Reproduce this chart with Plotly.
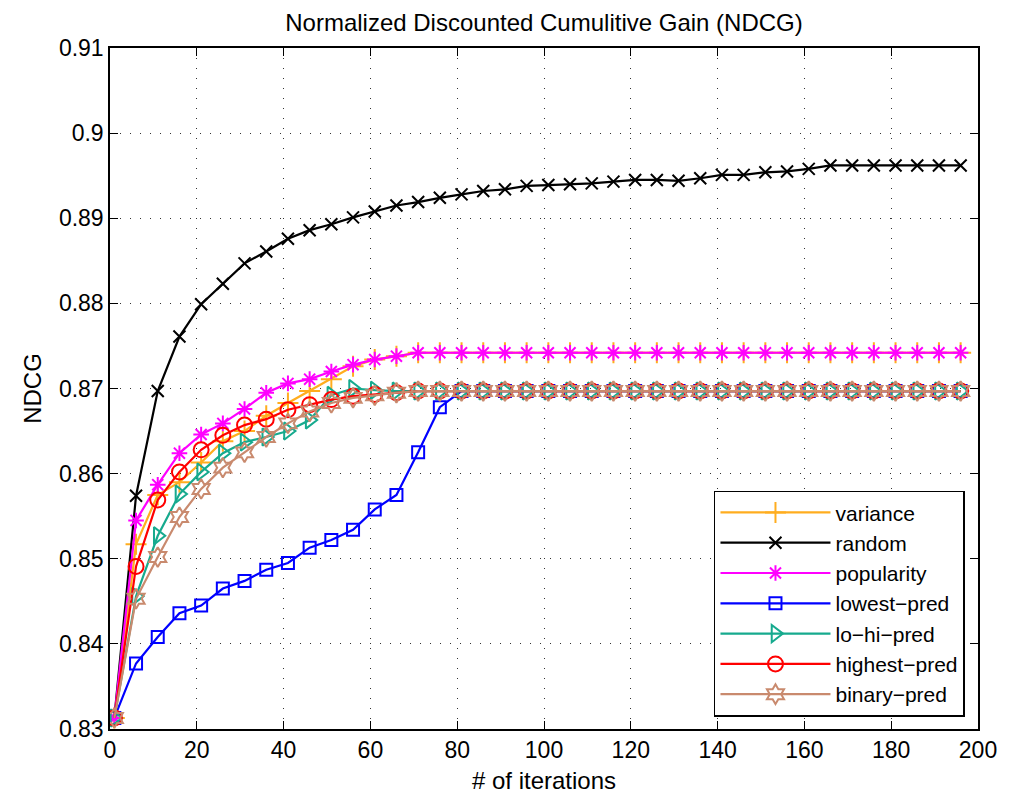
import plotly.graph_objects as go

iterations = list(range(1, 197, 5))  # 1, 6, ..., 196 (40 points)

variance = [0.8313, 0.8517, 0.8575, 0.8590, 0.8613, 0.8638, 0.8650, 0.8668, 0.8683, 0.8697,
            0.8711, 0.8726, 0.8734, 0.8738] + [0.8742] * 26
random_ = [0.8313, 0.8574, 0.8697, 0.8761, 0.8799, 0.8823, 0.8847, 0.8861, 0.8876, 0.8886,
           0.8893, 0.8901, 0.8908, 0.8915, 0.8919, 0.8924, 0.8928, 0.8932, 0.8934, 0.8938,
           0.8939, 0.8940, 0.8941, 0.8943, 0.8945, 0.8945, 0.8944, 0.8947, 0.8951, 0.8951,
           0.8954, 0.8955, 0.8958, 0.8962, 0.8962, 0.8962, 0.8962, 0.8962, 0.8962, 0.8962]
popularity = [0.8313, 0.8545, 0.8587, 0.8624, 0.8646, 0.8659, 0.8676, 0.8695, 0.8706, 0.8711,
              0.8720, 0.8728, 0.8734, 0.8738] + [0.8742] * 26
lowest_pred = [0.8313, 0.8377, 0.8408, 0.8436, 0.8445, 0.8465, 0.8474, 0.8487, 0.8495, 0.8513,
               0.8522, 0.8534, 0.8558, 0.8575, 0.8625, 0.8678] + [0.8697] * 24
lo_hi_pred = [0.8313, 0.8456, 0.8527, 0.8576, 0.8602, 0.8624, 0.8637, 0.8643, 0.8650, 0.8663,
              0.8692, 0.8700, 0.8698] + [0.8697] * 27
highest_pred = [0.8313, 0.8491, 0.8569, 0.8602, 0.8628, 0.8645, 0.8657, 0.8664, 0.8675, 0.8681,
                0.8687, 0.8691, 0.8693, 0.8695, 0.8697] + [0.8697] * 25
binary_pred = [0.8313, 0.8453, 0.8502, 0.8549, 0.8582, 0.8607, 0.8625, 0.8643, 0.8659, 0.8673,
               0.8683, 0.8689, 0.8692, 0.8695, 0.8697] + [0.8697] * 25

x_ticks = [0, 20, 40, 60, 80, 100, 120, 140, 160, 180, 200]
y_ticks = [0.83, 0.84, 0.85, 0.86, 0.87, 0.88, 0.89, 0.9, 0.91]
y_tick_labels = ["0.83", "0.84", "0.85", "0.86", "0.87", "0.88", "0.89", "0.9", "0.91"]

series = [
    ("variance", variance, "#FFAD1F", "cross-thin", 15),
    ("random", random_, "#000000", "x-thin", 12),
    ("popularity", popularity, "#FF00FF", "asterisk", 13),
    ("lowest\u2212pred", lowest_pred, "#0000FF", "square-open", 12),
    ("lo\u2212hi\u2212pred", lo_hi_pred, "#16AA8E", "triangle-right-open", 15),
    ("highest\u2212pred", highest_pred, "#FF0000", "circle-open", 15),
    ("binary\u2212pred", binary_pred, "#C98A6E", "hexagram-open", 15),
]

FONT = "Liberation Sans, Arial, sans-serif"

fig = go.Figure()
for name, vals, color, sym, size in series:
    fig.add_trace(go.Scatter(
        x=iterations, y=vals, name=name, mode="lines+markers",
        line=dict(color=color, width=2.2),
        marker=dict(symbol=sym, size=size, color=color,
                    line=dict(color=color, width=2)),
    ))

axis_common = dict(
    showline=True, linecolor="black", linewidth=1.5, mirror="ticks",
    ticks="inside", ticklen=8, tickcolor="black",
    showgrid=True, gridcolor="#333333", griddash="1px,9px", gridwidth=1,
    zeroline=False,
    tickfont=dict(family=FONT, size=23, color="black"),
)

fig.update_layout(
    width=1011, height=794,
    paper_bgcolor="white", plot_bgcolor="white",
    margin=dict(l=102, r=41, t=40, b=70),
    title=dict(text="Normalized Discounted Cumulitive Gain (NDCG)",
               x=0.5, xanchor="center", xref="paper", yref="container", y=0.982, yanchor="middle",
               font=dict(family=FONT, size=24, color="black")),
    xaxis=dict(range=[0, 200], tickvals=x_ticks, **axis_common,
               title=dict(text="# of iterations", standoff=10,
                          font=dict(family=FONT, size=24, color="black"))),
    yaxis=dict(range=[0.83, 0.91], tickvals=y_ticks, ticktext=y_tick_labels, **axis_common,
               title=dict(text="NDCG", standoff=10,
                          font=dict(family=FONT, size=24, color="black"))),
    legend=dict(x=0.985, y=0.018, xanchor="right", yanchor="bottom",
                bgcolor="white", bordercolor="black", borderwidth=1.5,
                font=dict(family=FONT, size=21, color="black"),
                tracegroupgap=0, itemwidth=110),
    showlegend=True,
)

fig.write_html("out.html")
